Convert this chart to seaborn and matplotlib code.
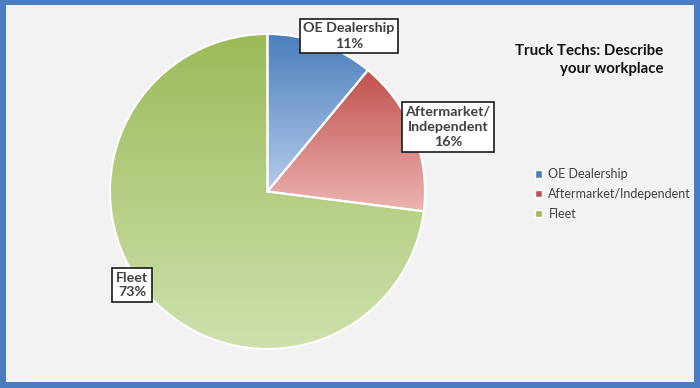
import numpy as np
import matplotlib
matplotlib.use("Agg")
import matplotlib.pyplot as plt
import seaborn as sns
from matplotlib.colors import to_rgb
from matplotlib.patches import Rectangle

categories = ["OE Dealership", "Aftermarket/Independent", "Fleet"]
box_labels = ["OE Dealership", "Aftermarket/\nIndependent", "Fleet"]
shares = [11, 16, 73]
title = "Truck Techs: Describe\nyour workplace"

top_colors = ["#4a7ebb", "#c0504d", "#9bbb59"]
bottom_colors = ["#b4cbea", "#ecb4b2", "#cfe0ad"]

sns.set_style("white")
plt.rcParams["font.family"] = ["Lato", "DejaVu Sans"]

fig = plt.figure(figsize=(7, 3.88), dpi=100, facecolor="#4a7cc2")
ax = fig.add_axes([6 / 700, 6 / 388, 688 / 700, 377 / 388])
ax.set_facecolor("#f2f2f2")

cx, cy, r = 267.5, 388 - 192.5, 157.5
wedges, _ = ax.pie(shares, startangle=90, counterclock=False, center=(cx, cy),
                   radius=r, colors=top_colors, frame=True,
                   wedgeprops=dict(edgecolor="white", linewidth=1.5))
ax.set_xlim(6, 694)
ax.set_ylim(5, 382)
ax.set_aspect("auto")
ax.set_xticks([])
ax.set_yticks([])
for s in ax.spines.values():
    s.set_visible(False)

# vertical gradient per slice, dark at top -> light at bottom
for w, c0, c1 in zip(wedges, top_colors, bottom_colors):
    ext = w.get_path().get_extents()
    t = np.linspace(0, 1, 256)[:, None]
    a, b = np.array(to_rgb(c0)), np.array(to_rgb(c1))
    grad = (a[None, :] * (1 - t) + b[None, :] * t)[:, None, :]
    im = ax.imshow(grad, extent=(ext.x0, ext.x1, ext.y0, ext.y1), origin="upper",
                   aspect="auto", zorder=w.get_zorder() + 0.1, interpolation="bilinear")
    im.set_clip_path(w)
    w.set_zorder(w.get_zorder() + 0.2)
    w.set_facecolor("none")

label_pos = [(349, 388 - 37), (448, 388 - 128), (132, 388 - 286)]
for lab, v, (x, y) in zip(box_labels, shares, label_pos):
    ax.text(x, y, f"{lab}\n{v}%", ha="center", va="center", fontsize=10.3,
            fontweight="bold", color="#404040", zorder=5, linespacing=1.3,
            bbox=dict(boxstyle="square,pad=0.25", facecolor="white",
                      edgecolor="#1a1a1a", linewidth=1.2))

ax.text(663, 388 - 45, title, ha="right", va="top", fontsize=10.8,
        fontweight="bold", color="#111111", linespacing=1.4)

handles = [Rectangle((0, 0), 1, 1, facecolor=c) for c in top_colors]
leg = ax.legend(handles, categories, loc="upper left",
                bbox_to_anchor=(524 / 700, 1 - 157 / 388), bbox_transform=fig.transFigure,
                frameon=False, fontsize=9, handlelength=0.55, handleheight=0.55,
                handletextpad=0.5, labelspacing=0.62)
for t in leg.get_texts():
    t.set_color("#404040")

fig.savefig("out.png", dpi=100, facecolor=fig.get_facecolor())
